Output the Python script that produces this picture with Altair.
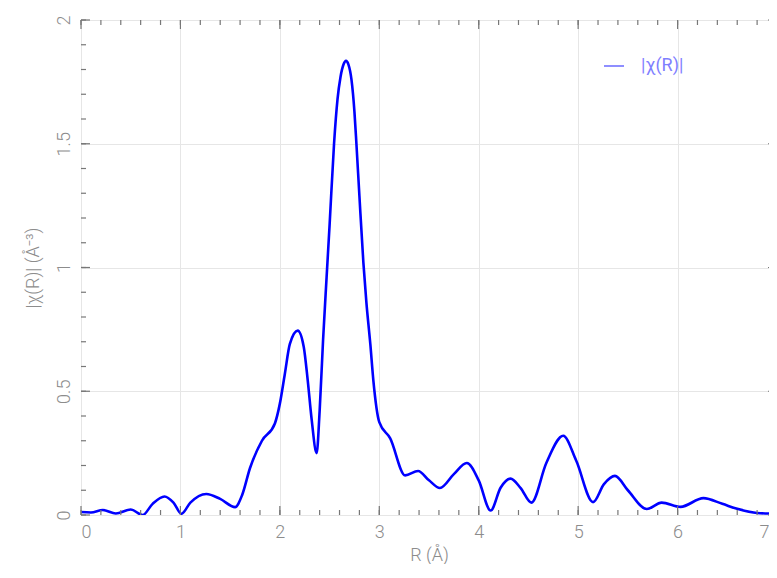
import altair as alt
import pandas as pd

# Data
R = [0.0, 0.1, 0.22, 0.35, 0.5, 0.62, 0.72, 0.84, 0.93, 1.01, 1.1, 1.26, 1.4, 1.55, 1.62,
     1.70, 1.82, 1.95, 2.0, 2.05, 2.10, 2.18, 2.24, 2.28, 2.32, 2.37, 2.40, 2.435, 2.47, 2.50,
     2.545, 2.58, 2.61, 2.64, 2.665, 2.69, 2.72, 2.75, 2.77, 2.80, 2.84, 2.87, 2.91, 2.94,
     3.0, 3.11, 3.26, 3.39, 3.5, 3.61, 3.75, 3.88, 4.0, 4.12, 4.22, 4.32, 4.42, 4.53, 4.68,
     4.85, 4.98, 5.15, 5.26, 5.37, 5.5, 5.69, 5.84, 6.03, 6.26, 6.45, 6.6, 6.8, 7.0]
CHI = [0.012, 0.01, 0.02, 0.006, 0.022, 0.0, 0.045, 0.075, 0.05, 0.005, 0.05, 0.085, 0.065,
       0.032, 0.08, 0.19, 0.30, 0.37, 0.45, 0.57, 0.69, 0.745, 0.68, 0.545, 0.385, 0.25,
       0.42, 0.71, 0.96, 1.17, 1.5, 1.68, 1.77, 1.82, 1.835, 1.82, 1.76, 1.63, 1.5, 1.29,
       1.02, 0.86, 0.69, 0.545, 0.375, 0.31, 0.16, 0.178, 0.14, 0.109, 0.165, 0.21, 0.14,
       0.018, 0.11, 0.147, 0.11, 0.05, 0.21, 0.32, 0.22, 0.052, 0.125, 0.158, 0.1, 0.024,
       0.05, 0.033, 0.068, 0.045, 0.025, 0.008, 0.005]
SERIES = "|χ(R)|"

X_MAJOR = [0, 1, 2, 3, 4, 5, 6, 7]
X_MINOR = [round(i * 0.2, 2) for i in range(36)]
Y_MAJOR = [0, 0.5, 1, 1.5, 2]
Y_MINOR = [round(i * 0.1, 2) for i in range(21)]

W, H = 696, 495
FONT = "Roboto"
GRAY = "#8c8c8c"
FRAME = "#777777"

df = pd.DataFrame({"R": R, "chi": CHI, "series": SERIES})
xs = alt.Scale(domain=[0, 7], nice=False, zero=False)
ys = alt.Scale(domain=[0, 2], nice=False)

x_axis = alt.Axis(
    values=X_MAJOR, title="R (Å)", labelFont=FONT, labelFontSize=18, labelColor=GRAY,
    labelFontWeight=300, labelPadding=8, domain=False, ticks=False, grid=True,
    labelOffset={"condition": {"test": "datum.value === 7", "value": -8}, "value": 0},
    gridColor="#e6e6e6", titleFont=FONT, titleFontSize=18, titleFontWeight=300,
    titleColor=GRAY, titlePadding=5)
y_axis = alt.Axis(
    values=Y_MAJOR, format="~g", title="|χ(R)| (Å⁻³)", labelFont=FONT, labelFontSize=18,
    labelColor=GRAY, labelFontWeight=300, labelAngle=270, labelAlign="center",
    labelBaseline="bottom", labelPadding=8, domain=False, ticks=False, grid=True,
    gridColor="#e6e6e6", titleFont=FONT, titleFontSize=18, titleFontWeight=300,
    titleColor=GRAY, titlePadding=13)

line = alt.Chart(df).mark_line(strokeWidth=2.6, interpolate="monotone", clip=True).encode(
    x=alt.X("R:Q", scale=xs, axis=x_axis),
    y=alt.Y("chi:Q", scale=ys, axis=y_axis),
    color=alt.Color("series:N", scale=alt.Scale(range=["#0000ff"]), legend=alt.Legend(
        title=None, orient="none", legendX=522, legendY=35, symbolType="stroke",
        symbolSize=400, symbolStrokeWidth=1.6, symbolOpacity=0.55, labelColor="#7f7fff",
        labelFont=FONT, labelFontSize=18, labelOffset=16, padding=0)),
)


def ticks(vals, axis_ch, pos, pos2):
    if axis_ch == "x":
        d = pd.DataFrame({"R": vals})
        enc = dict(x=alt.X("R:Q", scale=xs, axis=x_axis), y=alt.value(pos), y2=alt.value(pos2))
    else:
        d = pd.DataFrame({"chi": vals})
        enc = dict(y=alt.Y("chi:Q", scale=ys, axis=y_axis), x=alt.value(pos), x2=alt.value(pos2))
    return alt.Chart(d).mark_rule(color=FRAME, strokeWidth=1.2).encode(**enc)


layers = [
    line,
    ticks(X_MINOR, "x", H, H - 5), ticks(X_MAJOR, "x", H, H - 9),
    ticks(X_MINOR, "x", 0, 5), ticks(X_MAJOR, "x", 0, 9),
    ticks(Y_MINOR, "y", 0, 5), ticks(Y_MAJOR, "y", 0, 9),
    ticks(Y_MINOR, "y", W, W - 5), ticks(Y_MAJOR, "y", W, W - 9),
]

chart = alt.layer(*layers).properties(
    width=W, height=H,
    autosize=alt.AutoSizeParams(type="none"),
    padding={"left": 73, "top": 12, "right": -8, "bottom": 49},
).configure_view(stroke=FRAME, strokeWidth=1.5).configure(background="white")

chart.save("out.html", embed_options={"renderer": "svg", "actions": False})
